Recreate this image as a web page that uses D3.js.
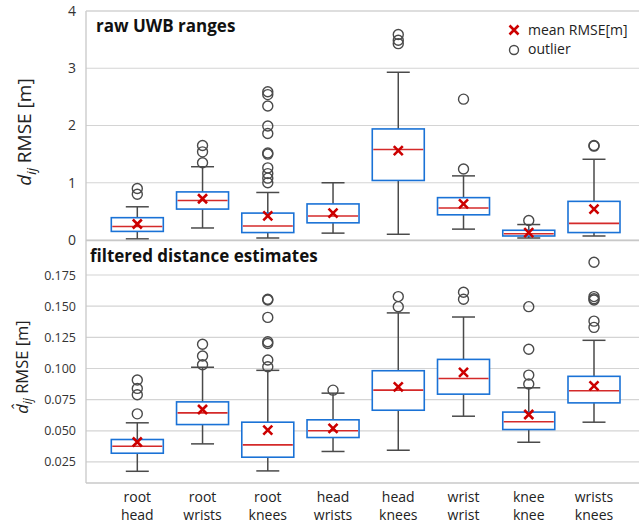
<!DOCTYPE html>
<html>
<head>
<meta charset="utf-8">
<script src="https://cdn.jsdelivr.net/npm/d3@7"></script>
<style>
  body { margin: 0; background: #fff; }
  svg { font-family: "Open Sans", Lato, sans-serif; }
</style>
</head>
<body>
<svg width="640" height="525"></svg>
<script>
// categories (two line labels)
var categories = ["root|head", "root|wrists", "root|knees", "head|wrists",
                  "head|knees", "wrist|wrist", "knee|knee", "wrists|knees"];

// raw UWB ranges
var rawLo   = [0.02, 0.21, 0.035, 0.12, 0.10, 0.19, 0.035, 0.07];
var rawQ1   = [0.15, 0.54, 0.13, 0.30, 1.04, 0.44, 0.07, 0.13];
var rawMed  = [0.235, 0.69, 0.245, 0.42, 1.58, 0.56, 0.11, 0.29];
var rawQ3   = [0.39, 0.84, 0.47, 0.63, 1.94, 0.74, 0.17, 0.675];
var rawHi   = [0.58, 1.28, 0.83, 1.0, 2.93, 1.12, 0.27, 1.41];
var rawMean = [0.28, 0.72, 0.42, 0.47, 1.56, 0.63, 0.13, 0.54];
var rawOut  = [
  [0.9, 0.8],
  [1.65, 1.54, 1.35],
  [2.59, 2.54, 2.34, 1.99, 1.86, 1.52, 1.50, 1.26, 1.16, 1.08, 1.0],
  [],
  [3.59, 3.49, 3.43],
  [2.46, 1.24],
  [0.34],
  [1.65, 1.64]
];

// filtered distance estimates
var filLo   = [0.0175, 0.0395, 0.0178, 0.0334, 0.0344, 0.0617, 0.0408, 0.0569];
var filQ1   = [0.032, 0.055, 0.0288, 0.0446, 0.0665, 0.0794, 0.051, 0.0724];
var filMed  = [0.0376, 0.0644, 0.0387, 0.050, 0.0826, 0.092, 0.0572, 0.0821];
var filQ3   = [0.043, 0.0732, 0.0569, 0.0588, 0.0982, 0.1073, 0.065, 0.0937];
var filHi   = [0.0564, 0.101, 0.0985, 0.0802, 0.1446, 0.1413, 0.0845, 0.1226];
var filMean = [0.041, 0.0671, 0.0505, 0.0519, 0.0853, 0.0969, 0.0631, 0.0861];
var filOut  = [
  [0.0907, 0.084, 0.0789, 0.0636],
  [0.1194, 0.110, 0.103],
  [0.1556, 0.155, 0.141, 0.1215, 0.120, 0.1068, 0.1014],
  [0.0826],
  [0.1577, 0.1496],
  [0.1612, 0.1556],
  [0.1496, 0.1154, 0.0947, 0.0875],
  [0.1853, 0.1577, 0.156, 0.155, 0.138, 0.133]
];

var rawTicks = [0, 1, 2, 3, 4];
var filTicks = [0.025, 0.05, 0.075, 0.1, 0.125, 0.15, 0.175];

var svg = d3.select("svg");
var left = 86, right = 639;

var x = d3.scalePoint()
  .domain(categories)
  .range([137.3, 594]);

var boxW = 52, capW = 23;
var blue = "#1a72d6", red = "#d42a2a", cross = "#cc0000", dark = "#4a4a4a";

function panel(opt) {
  var y = d3.scaleLinear().domain(opt.domain).range([opt.bottom, opt.top]);
  var g = svg.append("g");

  // grid
  g.selectAll("line.grid")
    .data(opt.ticks)
    .enter().append("line")
    .attr("x1", left).attr("x2", right)
    .attr("y1", function(d) { return y(d); })
    .attr("y2", function(d) { return y(d); })
    .attr("stroke", "#d4d4d4").attr("stroke-width", 1.2);

  // y axis
  var yAxis = d3.axisLeft(y).tickValues(opt.ticks).tickSize(0).tickPadding(10)
    .tickFormat(opt.fmt);
  var ax = g.append("g").attr("transform", "translate(" + left + ",0)").call(yAxis);
  ax.select(".domain").remove();
  ax.selectAll("text").attr("font-size", opt.tickSize).attr("fill", "#333")
    .attr("font-family", "'Open Sans', sans-serif");

  var data = categories.map(function(c, i) {
    return { c: c, lo: opt.lo[i], q1: opt.q1[i], med: opt.med[i], q3: opt.q3[i],
             hi: opt.hi[i], mean: opt.mean[i], out: opt.out[i] };
  });

  var b = g.selectAll("g.box").data(data).enter().append("g")
    .attr("transform", function(d) { return "translate(" + x(d.c) + ",0)"; });

  // whiskers
  b.append("line").attr("x1", 0).attr("x2", 0)
    .attr("y1", function(d) { return y(d.hi); })
    .attr("y2", function(d) { return y(d.lo); })
    .attr("stroke", dark).attr("stroke-width", 1.5);
  b.append("line").attr("x1", -capW / 2).attr("x2", capW / 2)
    .attr("y1", function(d) { return y(d.hi); })
    .attr("y2", function(d) { return y(d.hi); })
    .attr("stroke", dark).attr("stroke-width", 1.5);
  b.append("line").attr("x1", -capW / 2).attr("x2", capW / 2)
    .attr("y1", function(d) { return y(d.lo); })
    .attr("y2", function(d) { return y(d.lo); })
    .attr("stroke", dark).attr("stroke-width", 1.5);

  // box
  b.append("rect")
    .attr("x", -boxW / 2).attr("width", boxW)
    .attr("y", function(d) { return y(d.q3); })
    .attr("height", function(d) { return y(d.q1) - y(d.q3); })
    .attr("fill", "#fff").attr("stroke", blue).attr("stroke-width", 1.6);

  // median
  b.append("line").attr("x1", -boxW / 2 + 1).attr("x2", boxW / 2 - 1)
    .attr("y1", function(d) { return y(d.med); })
    .attr("y2", function(d) { return y(d.med); })
    .attr("stroke", red).attr("stroke-width", 1.6);

  // outliers
  b.selectAll("circle").data(function(d) { return d.out; }).enter().append("circle")
    .attr("cx", 0).attr("cy", function(v) { return y(v); }).attr("r", 5)
    .attr("fill", "none").attr("stroke", dark).attr("stroke-width", 1.4);

  // mean cross
  b.append("path")
    .attr("d", function(d) {
      var cy = y(d.mean), s = 4.5;
      return "M" + (-s) + "," + (cy - s) + "L" + s + "," + (cy + s) +
             "M" + s + "," + (cy - s) + "L" + (-s) + "," + (cy + s);
    })
    .attr("stroke", cross).attr("stroke-width", 2.6).attr("fill", "none");

  // title
  g.append("text").attr("x", opt.titleX).attr("y", opt.top + 21)
    .attr("font-size", 17).attr("font-weight", "bold").attr("fill", "#111")
    .text(opt.title);

  return y;
}

panel({ domain: [0, 4], top: 11, bottom: 240, ticks: rawTicks,
  fmt: d3.format("d"), tickSize: 14,
  lo: rawLo, q1: rawQ1, med: rawMed, q3: rawQ3, hi: rawHi, mean: rawMean, out: rawOut,
  title: "raw UWB ranges", titleX: 96 });

panel({ domain: [0.0081, 0.2023], top: 241, bottom: 483, ticks: filTicks,
  fmt: d3.format(".3f"), tickSize: 12.5,
  lo: filLo, q1: filQ1, med: filMed, q3: filQ3, hi: filHi, mean: filMean, out: filOut,
  title: "filtered distance estimates", titleX: 90 });

// frame
svg.append("line").attr("x1", left).attr("x2", left).attr("y1", 11).attr("y2", 483)
  .attr("stroke", "#c8c8c8").attr("stroke-width", 1.3);
svg.append("line").attr("x1", left).attr("x2", right).attr("y1", 11).attr("y2", 11)
  .attr("stroke", "#d4d4d4").attr("stroke-width", 1.2);
svg.append("line").attr("x1", left).attr("x2", right).attr("y1", 240.5).attr("y2", 240.5)
  .attr("stroke", "#c8c8c8").attr("stroke-width", 1.3);
svg.append("line").attr("x1", left).attr("x2", right).attr("y1", 483).attr("y2", 483)
  .attr("stroke", "#c8c8c8").attr("stroke-width", 1.3);

// x labels
var xl = svg.selectAll("text.xl").data(categories).enter().append("text")
  .attr("x", function(d) { return x(d); })
  .attr("text-anchor", "middle").attr("font-size", 14).attr("fill", "#222");
xl.append("tspan").attr("x", function(d) { return x(d); }).attr("y", 502)
  .text(function(d) { return d.split("|")[0]; });
xl.append("tspan").attr("x", function(d) { return x(d); }).attr("y", 520)
  .text(function(d) { return d.split("|")[1]; });

// y labels
var yl1 = svg.append("text").attr("transform", "translate(31,132) rotate(-90)")
  .attr("text-anchor", "middle").attr("font-size", 19).attr("fill", "#222");
yl1.append("tspan").attr("font-style", "italic").text("d");
yl1.append("tspan").attr("font-style", "italic").attr("font-size", 13).attr("dy", 5).text("ij");
yl1.append("tspan").attr("dy", -5).text(" RMSE [m]");

var yl2 = svg.append("text").attr("transform", "translate(28,367) rotate(-90)")
  .attr("text-anchor", "middle").attr("font-size", 16.5).attr("fill", "#222");
yl2.append("tspan").attr("font-style", "italic").text("d\u0302");
yl2.append("tspan").attr("font-style", "italic").attr("font-size", 12).attr("dy", 4).text("ij");
yl2.append("tspan").attr("dy", -4).text(" RMSE [m]");

// legend
var lg = svg.append("g").attr("transform", "translate(514,30)");
lg.append("path").attr("d", "M-4.5,-4.5L4.5,4.5M4.5,-4.5L-4.5,4.5")
  .attr("stroke", cross).attr("stroke-width", 2.6);
lg.append("text").attr("x", 14).attr("y", 5).attr("font-size", 14).attr("fill", "#222")
  .text("mean RMSE[m]");
lg.append("circle").attr("cx", 0).attr("cy", 20).attr("r", 4.5)
  .attr("fill", "none").attr("stroke", dark).attr("stroke-width", 1.4);
lg.append("text").attr("x", 14).attr("y", 24).attr("font-size", 14).attr("fill", "#222")
  .text("outlier");
</script>
</body>
</html>
